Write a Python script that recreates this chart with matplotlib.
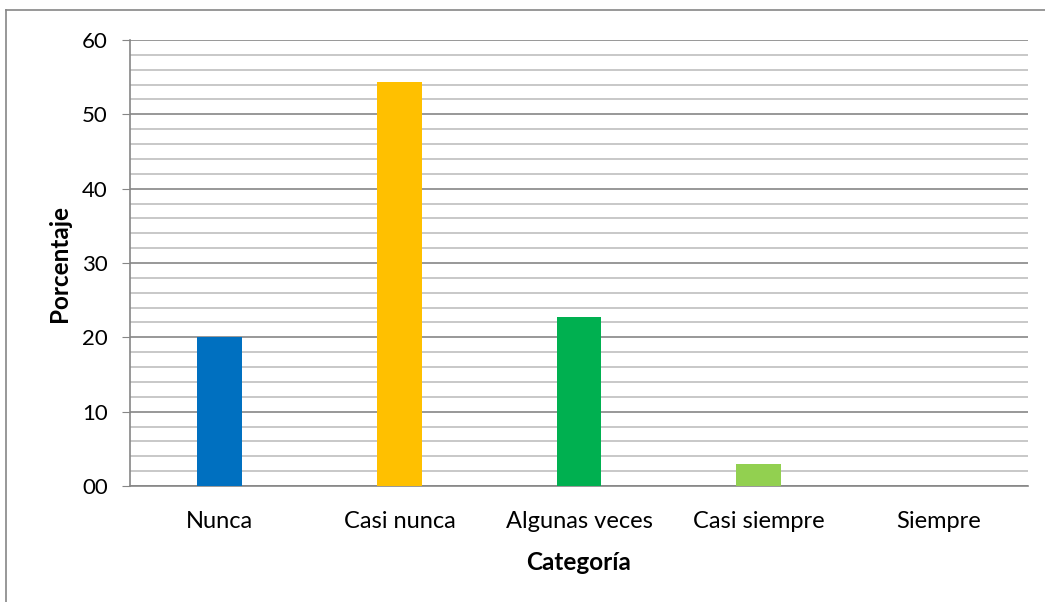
import matplotlib.pyplot as plt
from matplotlib.ticker import MultipleLocator, FixedFormatter, FixedLocator
from matplotlib.lines import Line2D

categorias = ['Nunca', 'Casi nunca', 'Algunas veces', 'Casi siempre', 'Siempre']
porcentajes = [20.0, 54.3, 22.8, 2.9, 0.0]
colores = ['#0070c0', '#ffc000', '#00b050', '#92d050', '#92d050']
y_ticks = [0, 10, 20, 30, 40, 50, 60]
y_labels = ['00', '10', '20', '30', '40', '50', '60']

plt.rcParams['font.family'] = ['Lato', 'DejaVu Sans']

fig = plt.figure(figsize=(10.45, 6.02), dpi=100)
ax = fig.add_axes([130 / 1045, 1 - 486 / 602, 898 / 1045, 446 / 602])

x = range(len(categorias))
ax.bar(x, porcentajes, width=0.25, color=colores, zorder=3)

ax.set_xlim(-0.5, len(categorias) - 0.5)
ax.set_ylim(0, 60)
ax.yaxis.set_major_locator(FixedLocator(y_ticks))
ax.yaxis.set_major_formatter(FixedFormatter(y_labels))
ax.yaxis.set_minor_locator(MultipleLocator(2))
ax.grid(axis='y', which='major', color='#868686', linewidth=1.2, zorder=0)
ax.grid(axis='y', which='minor', color='#bfbfbf', linewidth=1.2, zorder=0)

ax.set_xticks(list(x))
ax.set_xticklabels(categorias, fontsize=17)
ax.tick_params(axis='x', length=0, pad=18)
ax.tick_params(axis='y', which='major', length=6, color='#868686', labelsize=16, pad=10)
ax.tick_params(axis='y', which='minor', length=0)

for s in ['top', 'right']:
    ax.spines[s].set_visible(False)
for s in ['left', 'bottom']:
    ax.spines[s].set_color('#868686')
    ax.spines[s].set_linewidth(1.2)

ax.set_ylabel('Porcentaje', fontsize=17.5, fontweight='bold', labelpad=8)
ax.set_xlabel('Categoría', fontsize=17.5, fontweight='bold', labelpad=14)

# marco del gráfico
fig.add_artist(Line2D([6 / 1045, 6 / 1045], [0, 1 - 10 / 602], color='#868686', linewidth=1.2))
fig.add_artist(Line2D([6 / 1045, 1], [1 - 10 / 602, 1 - 10 / 602], color='#868686', linewidth=1.2))

fig.savefig('out.png', dpi=100)
